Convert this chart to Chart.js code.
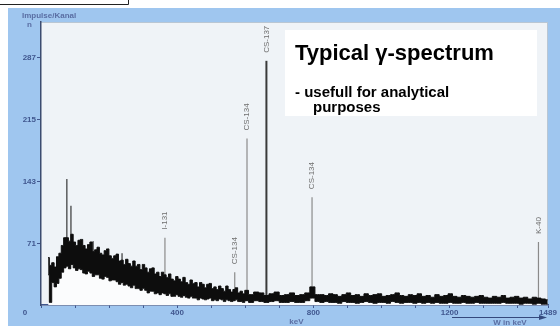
<!DOCTYPE html>
<html>
  <head>
    <title>Typical gamma spectrum</title>
    <script src="https://cdn.jsdelivr.net/npm/chart.js"></script>
    <style>
      html, body { margin: 0; padding: 0; background: #fff; }
      #spectrum { display: block; }
    </style>
  </head>
  <body>
    <canvas id="spectrum" width="560" height="326"></canvas>
    <script>
      // continuum band: energy (keV), top and bottom of the black band (counts)
      const bandEnergy = [
        21, 28, 35, 42, 49, 56, 63, 70, 77, 84, 91, 98, 105, 112, 119, 126, 133, 140, 147, 154,
        161, 168, 175, 182, 189, 196, 203, 210, 217, 224, 231, 238, 245, 252, 259, 266, 273, 280,
        287, 294, 301, 308, 315, 322, 329, 336, 343, 350, 357, 364, 371, 378, 385, 392, 399, 406,
        413, 420, 427, 434, 441, 448, 455, 462, 469, 476, 483, 490, 497, 504, 511, 518, 525, 532,
        539, 546, 553, 560, 567, 574, 581, 588, 595, 602,
        617, 632, 647, 662, 677, 692, 707, 722, 737, 752, 767, 782, 797, 812,
        825, 838, 851, 864, 877, 890, 903, 916, 929, 942, 955, 968, 981, 994, 1007, 1020,
        1033, 1046, 1059, 1072, 1085, 1098, 1111, 1124, 1137, 1150, 1163, 1176, 1189, 1202,
        1215, 1228, 1241, 1254, 1267, 1280, 1293, 1306, 1319, 1332, 1345, 1358, 1371, 1384,
        1397, 1410, 1423, 1436, 1449, 1462, 1475, 1488
      ];
      const bandUpper = [
        55, 46, 49, 44, 56, 60, 69, 78, 78, 74, 82, 73, 69, 75, 76, 69, 65, 70, 73, 62,
        64, 67, 60, 58, 63, 65, 57, 54, 57, 59, 51, 52, 47, 53, 48, 45, 51, 45,
        47, 41, 47, 43, 38, 42, 43, 36, 38, 33, 38, 35, 32, 36, 30, 28, 33, 30,
        27, 32, 26, 24, 29, 25, 26, 21, 26, 24, 20, 24, 25, 19, 21, 18, 22, 19,
        16, 22, 18, 15, 18, 20, 14, 16, 13, 17,
        12, 15, 14, 11, 13, 15, 11, 12, 14, 11, 12, 14, 21, 12,
        12, 11, 13, 12, 10, 12, 14, 11, 12, 10, 13, 11, 12, 13, 10, 11,
        12, 14, 11, 10, 12, 11, 13, 10, 11, 9, 12, 10, 11, 13,
        10, 9, 11, 10, 9, 10, 11, 9, 8, 10, 9, 11, 8, 9,
        10, 8, 9, 7, 9, 8, 7, 6
      ];
      const bandLower = [
        35, 3, 26, 21, 25, 31, 38, 43, 45, 42, 47, 43, 40, 42, 41, 37, 36, 39, 37, 33,
        35, 35, 31, 30, 33, 32, 28, 29, 29, 27, 24, 26, 23, 24, 22, 20, 23, 19,
        19, 17, 19, 17, 14, 16, 16, 13, 14, 12, 14, 13, 11, 13, 10, 10, 12, 10,
        9, 11, 9, 8, 10, 8, 8, 6, 8, 7, 6, 7, 8, 5, 6, 5, 7, 6,
        4, 6, 5, 4, 5, 6, 4, 4, 3, 5,
        3, 5, 4, 3, 4, 5, 3, 3, 4, 3, 3, 5, 8, 4,
        3, 4, 3, 3, 2, 4, 3, 3, 2, 3, 4, 3, 2, 3, 3, 2,
        4, 3, 2, 3, 3, 2, 3, 2, 3, 2, 3, 2, 2, 3,
        2, 2, 3, 2, 2, 3, 2, 2, 2, 2, 2, 3, 2, 2,
        2, 1, 2, 2, 1, 2, 1, 1
      ];

      // sharp lines: energy (keV), peak height (counts), nuclide label
      const peakEnergy = [76, 88, 153, 238, 364, 569, 605, 662, 796, 1461];
      const peakCounts = [146, 115, 74, 60, 78, 38, 193, 283, 125, 73];
      const peakLabels = ["", "", "", "", "I-131", "CS-134", "CS-134", "CS-137", "CS-134", "K-40"];

      // axis ticks
      const yTickValues = [71, 143, 215, 287];
      const xTickValues = [0, 100, 200, 300, 400, 500, 600, 700, 800, 900, 1000, 1100, 1200, 1300, 1400, 1489];
      const xTickLabels = [400, 800, 1200, 1489];

      const navy = "#40578f";
      const labelFont = "Arial, 'Liberation Sans', sans-serif";

      const peakPoints = peakEnergy.flatMap((e, i) => [
        { x: e, y: 0 },
        { x: e, y: peakCounts[i] },
        { x: e, y: null },
      ]);

      const peakStyle = (i) => {
        if (!peakLabels[i]) return { color: "#111", width: 1 };
        if (peakCounts[i] === Math.max(...peakCounts)) return { color: "#3a3a3a", width: 2 };
        return { color: "#8a8a8a", width: 1.2 };
      };

      const paperPlugin = {
        id: "paper",
        beforeDraw(chart) {
          const { ctx, chartArea: a } = chart;
          ctx.save();
          ctx.fillStyle = "#ffffff";
          ctx.fillRect(0, 0, chart.width, chart.height);
          ctx.fillStyle = "#9fc6ef";
          ctx.fillRect(8, 8, chart.width - 8, chart.height - 8);
          // small framed box at the top left
          ctx.strokeStyle = "#222";
          ctx.lineWidth = 1;
          ctx.beginPath();
          ctx.moveTo(0, 4.5);
          ctx.lineTo(128.5, 4.5);
          ctx.lineTo(128.5, 0);
          ctx.stroke();
          // plot paper
          ctx.fillStyle = "#eff3f7";
          ctx.fillRect(a.left - 1, a.top, a.right - a.left + 1, a.bottom - a.top);
          ctx.strokeStyle = "#b9c6d3";
          ctx.strokeRect(a.left - 0.5, a.top + 0.5, a.right - a.left, a.bottom - a.top);
          ctx.restore();
        },
        afterDraw(chart) {
          const { ctx, chartArea: a, scales } = chart;
          const xs = scales.x;
          const ys = scales.y;
          ctx.save();

          // nuclide labels, written upwards above each line
          ctx.fillStyle = "#6f6f6f";
          ctx.font = "8px " + labelFont;
          ctx.textAlign = "left";
          ctx.textBaseline = "middle";
          peakLabels.forEach((name, i) => {
            if (!name) return;
            const px = xs.getPixelForValue(peakEnergy[i]);
            const py = ys.getPixelForValue(peakCounts[i]) - 8;
            ctx.save();
            ctx.translate(px, py);
            ctx.rotate(-Math.PI / 2);
            ctx.fillText(name, 0, 0);
            ctx.restore();
          });

          // axis titles
          ctx.fillStyle = "#5a6ea3";
          ctx.font = "bold 8px " + labelFont;
          ctx.textAlign = "left";
          ctx.fillText("Impulse/Kanal", 22, 16);
          ctx.fillText("n", 27, 25);
          ctx.fillStyle = navy;
          ctx.textAlign = "center";
          ctx.fillText("0", a.left - 16, ys.getPixelForValue(0) + 8);
          ctx.fillStyle = "#5a6ea3";
          ctx.fillText("keV", xs.getPixelForValue(750), 322);
          ctx.fillText("W in keV", 510, 323);

          // arrow
          ctx.strokeStyle = "#34497d";
          ctx.fillStyle = "#34497d";
          ctx.lineWidth = 1;
          ctx.beginPath();
          ctx.moveTo(452, 317.5);
          ctx.lineTo(540, 317.5);
          ctx.stroke();
          ctx.beginPath();
          ctx.moveTo(547, 317.5);
          ctx.lineTo(539, 315);
          ctx.lineTo(539, 320);
          ctx.closePath();
          ctx.fill();

          // text box
          ctx.fillStyle = "#ffffff";
          ctx.fillRect(285, 30, 252, 86);
          ctx.fillStyle = "#000000";
          ctx.textAlign = "left";
          ctx.textBaseline = "alphabetic";
          ctx.font = "bold 22px " + labelFont;
          ctx.fillText("Typical \u03b3-spectrum", 295, 60);
          ctx.font = "bold 15px " + labelFont;
          ctx.fillText("- usefull for analytical", 295, 97);
          ctx.fillText("purposes", 313, 112);
          ctx.restore();
        },
      };

      const ctx = document.getElementById("spectrum").getContext("2d");

      new Chart(ctx, {
        type: "line",
        data: {
          datasets: [
            {
              label: "band top",
              data: bandEnergy.map((e, i) => ({ x: e, y: bandUpper[i] })),
              borderColor: "#0d0d0d",
              borderWidth: 1,
              backgroundColor: "#0d0d0d",
              fill: "+1",
              stepped: "middle",
              pointRadius: 0,
              order: 1,
            },
            {
              label: "band bottom",
              data: bandEnergy.map((e, i) => ({ x: e, y: bandLower[i] })),
              borderColor: "#1a1a1a",
              borderWidth: 1,
              backgroundColor: "#fbfcfd",
              fill: "origin",
              stepped: "middle",
              pointRadius: 0,
              order: 2,
            },
            {
              label: "lines",
              data: peakPoints,
              borderColor: "#111",
              borderWidth: 1,
              pointRadius: 0,
              spanGaps: false,
              fill: false,
              order: 3,
              segment: {
                borderColor: (c) => peakStyle(Math.floor(c.p0DataIndex / 3)).color,
                borderWidth: (c) => peakStyle(Math.floor(c.p0DataIndex / 3)).width,
              },
            },
          ],
        },
        options: {
          responsive: false,
          animation: false,
          events: [],
          layout: {
            padding: { top: 22, right: 12, left: 0, bottom: 0 },
          },
          scales: {
            x: {
              type: "linear",
              min: 0,
              max: 1489,
              afterFit: (scale) => {
                scale.height = 21;
              },
              afterBuildTicks: (scale) => {
                scale.ticks = xTickValues.map((v) => ({ value: v }));
              },
              grid: {
                drawOnChartArea: false,
                drawTicks: true,
                tickLength: 3,
                color: navy,
              },
              border: { display: true, color: navy, width: 1.5 },
              ticks: {
                autoSkip: false,
                maxRotation: 0,
                padding: 0,
                color: navy,
                font: { family: labelFont, size: 8, weight: "bold" },
                callback: (v) => (xTickLabels.includes(v) ? String(v) : ""),
              },
            },
            y: {
              min: 0,
              max: 328,
              afterFit: (scale) => {
                scale.width = 41;
              },
              afterBuildTicks: (scale) => {
                scale.ticks = yTickValues.map((v) => ({ value: v }));
              },
              grid: {
                drawOnChartArea: false,
                drawTicks: true,
                tickLength: 4,
                color: navy,
              },
              border: { display: true, color: "#3c4c70", width: 1.5 },
              ticks: {
                padding: 1,
                color: navy,
                font: { family: labelFont, size: 8, weight: "bold" },
              },
            },
          },
          plugins: {
            legend: { display: false },
            tooltip: { enabled: false },
          },
        },
        plugins: [paperPlugin],
      });
    </script>
  </body>
</html>
